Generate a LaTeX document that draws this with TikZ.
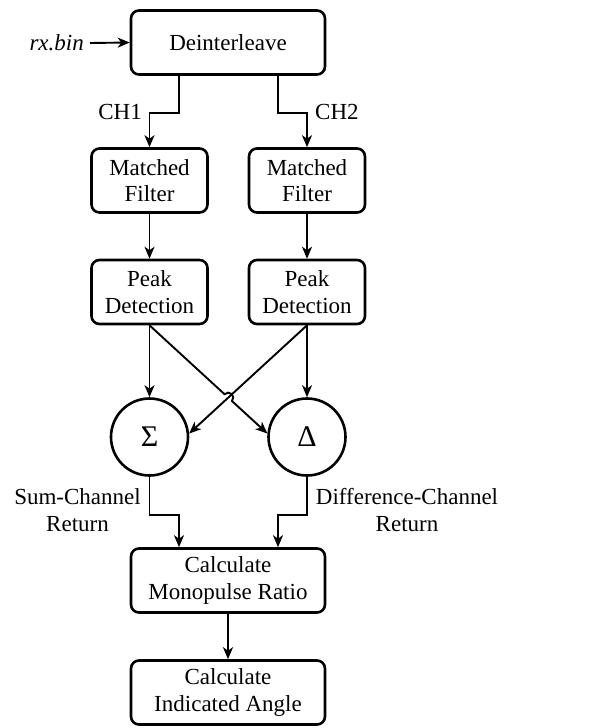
\documentclass[tikz,border=0pt]{standalone}
\usepackage{fontspec}
\setmainfont{Liberation Serif}
\usetikzlibrary{arrows.meta,calc}
\begin{document}
\begin{tikzpicture}[x=1pt,y=-1pt,
  txt/.style={font=\fontsize{23}{26.5}\selectfont},
  blk/.style={txt,draw,line width=2.6pt,rounded corners=8pt,align=center,
    minimum width=194pt,minimum height=64pt,inner sep=0pt},
  sblk/.style={blk,minimum width=116pt},
  sumnode/.style={font=\fontsize{30}{32}\selectfont,draw,circle,line width=2.6pt,minimum size=77pt,inner sep=0pt},
  arr/.style={line width=1.9pt,-{Stealth[length=12pt,width=10pt,inset=3.5pt]}},
  lab/.style={txt,inner sep=0pt,align=center}]
\useasboundingbox (0,0) rectangle (590,728);

\node[blk] (Deint) at (228,42.5) {Deinterleave};
\node[txt,inner sep=0pt,anchor=east] (rx) at (84,43) {\textit{rx.bin}};
\node[sblk] (MF1) at (149.5,180.5) {Matched\\Filter};
\node[sblk] (MF2) at (307,180.5) {Matched\\Filter};
\node[sblk] (PD1) at (149.5,292) {Peak\\Detection};
\node[sblk] (PD2) at (307,292) {Peak\\Detection};
\node[sumnode] (S) at (149.5,437) {Σ};
\node[sumnode] (D) at (307,437) {Δ};
\node[blk] (MR) at (228,580.5) {Calculate\\Monopulse Ratio};
\node[blk] (IA) at (228,692.5) {Calculate\\Indicated Angle};

\coordinate (rxs) at (90,43);
\draw[arr] (rxs) -- (Deint.west);

\coordinate (c1) at (179,113);
\coordinate (c2) at (278,113);
\draw[arr] (Deint.south -| c1) -- (c1) -| (MF1.north);
\draw[arr] (Deint.south -| c2) -- (c2) -| (MF2.north);
\node[lab,anchor=east] (ch1) at (142,112) {CH1};
\node[lab,anchor=west] (ch2) at (315,112) {CH2};

\draw[arr] (MF1) -- (PD1);
\draw[arr] (MF2) -- (PD2);
\draw[arr] (PD1) -- (S);
\draw[arr] (PD2) -- (D);

% crossing lines
\coordinate (dA) at (D.175);
\coordinate (sB) at (S.5);
\coordinate (X) at (intersection of PD1.south--dA and PD2.south--sB);
\draw[arr] (PD2.south) -- (sB);
\draw[arr] let \p1=($(dA)-(PD1.south)$), \n1={atan2(\y1,\x1)} in
  (PD1.south) -- ($(X)!5pt!(PD1.south)$)
  arc[start angle=\n1+180, end angle=\n1, radius=5pt] -- (dA);

% outputs
\coordinate (j1) at (179,515);
\coordinate (j2) at (278,515);
\draw[arr] (S.south) |- (j1) -- (j1 |- MR.north);
\draw[arr] (D.south) |- (j2) -- (j2 |- MR.north);
\node[lab] (sl) at (77.5,510) {Sum-Channel\\Return};
\node[lab] (dl) at (407,510) {Difference-Channel\\Return};

\draw[arr] (MR) -- (IA);
\end{tikzpicture}
\end{document}
